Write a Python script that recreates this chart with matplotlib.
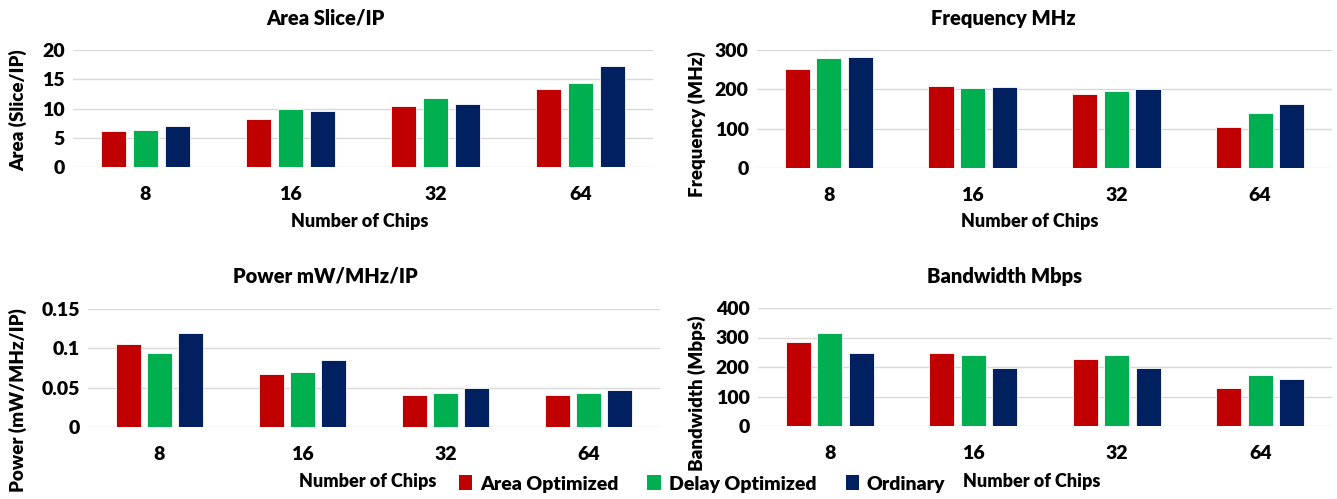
import numpy as np
import matplotlib
matplotlib.use('Agg')
import matplotlib.pyplot as plt
from matplotlib.patches import Patch

plt.rcParams['font.family'] = ['Lato', 'DejaVu Sans']
plt.rcParams['font.weight'] = 'heavy'
WT = 'heavy'

chips = ['8', '16', '32', '64']
series = ['Area Optimized', 'Delay Optimized', 'Ordinary']
colors = ['#C00000', '#00B050', '#002060']

area = [[6.2, 8.2, 10.5, 13.4],
        [6.3, 9.9, 11.8, 14.4],
        [7.0, 9.6, 10.7, 17.3]]
freq = [[252, 208, 187, 104],
        [279, 204, 195, 139],
        [281, 207, 201, 162]]
power = [[0.105, 0.067, 0.041, 0.041],
         [0.094, 0.070, 0.043, 0.043],
         [0.120, 0.085, 0.049, 0.047]]
bandwidth = [[284, 247, 228, 129],
             [315, 242, 239, 173],
             [247, 195, 196, 160]]

W, H = 1337, 499
fig = plt.figure(figsize=(W / 100, H / 100), dpi=100)


def px_axes(x0, x1, ytop, ybot):
    return fig.add_axes([x0 / W, 1 - ybot / H, (x1 - x0) / W, (ybot - ytop) / H])


panels = [
    # data, title, ylabel, ymax, step, axes box, title pos, xlabel pos, ylabel pos
    (area, 'Area Slice/IP', 'Area (Slice/IP)', 20, 5,
     (73, 653, 50, 167), (325, 18), (360, 222), (18, 110)),
    (freq, 'Frequency MHz', 'Frequency (MHz)', 300, 100,
     (757, 1332, 50, 168), (1003, 18), (1030, 222), (697, 124)),
    (power, 'Power mW/MHz/IP', 'Power (mW/MHz/IP)', 0.15, 0.05,
     (88, 660, 309, 427), (325, 276), (368, 481), (18, 400)),
    (bandwidth, 'Bandwidth Mbps', 'Bandwidth (Mbps)', 400, 100,
     (758, 1332, 308, 426), (1005, 277), (1032, 481), (697, 393)),
]

x = np.arange(len(chips))
offsets = [-0.22, 0, 0.22]

for data, title, ylabel, ymax, step, box, tpos, xlpos, ylpos in panels:
    ax = px_axes(*box)
    for vals, off, c in zip(data, offsets, colors):
        ax.bar(x + off, vals, width=0.175, color=c, edgecolor='white',
               linewidth=0.6, zorder=3)
    ax.set_xlim(-0.5, len(chips) - 0.5)
    ax.set_ylim(0, ymax)
    ticks = np.arange(0, ymax + step / 2, step)
    ax.set_yticks(ticks)
    ax.set_yticklabels(['{:g}'.format(round(t, 2)) for t in ticks])
    ax.set_xticks(x)
    ax.set_xticklabels(chips)
    ax.tick_params(length=0, labelsize=14, pad=6)
    ax.tick_params(axis='x', pad=14)
    for lbl in ax.get_xticklabels() + ax.get_yticklabels():
        lbl.set_fontweight(WT)
    ax.grid(axis='y', color='#D9D9D9', linewidth=1, zorder=0)
    for s in ax.spines.values():
        s.set_visible(False)
    fig.text(tpos[0] / W, 1 - tpos[1] / H, title, ha='center', va='center',
             fontsize=14.5, fontweight=WT)
    fig.text(xlpos[0] / W, 1 - xlpos[1] / H, 'Number of Chips', ha='center',
             va='center', fontsize=13, fontweight=WT)
    fig.text(ylpos[0] / W, 1 - ylpos[1] / H, ylabel, ha='center', va='center',
             rotation=90, fontsize=13.5, fontweight=WT)

handles = [Patch(facecolor=c, edgecolor='none') for c in colors]
fig.legend(handles, series, loc='center', bbox_to_anchor=(702 / W, 1 - 484 / H),
           ncol=3, frameon=False, handlelength=0.7,
           handleheight=0.8, handletextpad=0.4, columnspacing=1.5,
           prop={'weight': WT, 'size': 14})

fig.savefig('out.png', dpi=100)
